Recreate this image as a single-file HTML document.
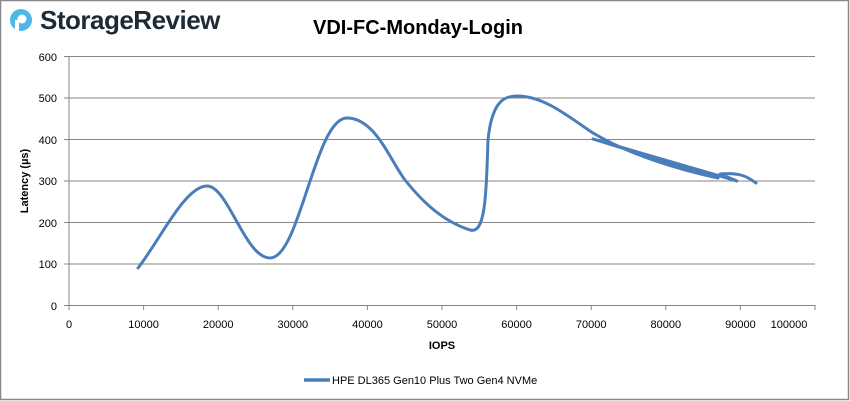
<!DOCTYPE html>
<html><head><style>
body{margin:0;background:#fff;}
svg{display:block;font-family:"Liberation Sans",Calibri,sans-serif;}
</style></head><body>
<svg width="850" height="401" viewBox="0 0 850 401">
<rect x="0.5" y="0.5" width="848" height="399" fill="#fff" stroke="#888" stroke-width="1.5"/>
<circle cx="21" cy="20" r="11" fill="#4db8e8"/>
<circle cx="22" cy="19" r="4.5" fill="#fff"/>
<rect x="15" y="20" width="4" height="11" fill="#fff"/>
<text x="40" y="29" font-size="26" fill="#1d2b36" font-weight="bold" style="font-family:'Liberation Sans',sans-serif;letter-spacing:-0.5px">StorageReview</text>
<text x="418" y="34" font-size="20" font-weight="bold" text-anchor="middle" fill="#000">VDI-FC-Monday-Login</text>
<g stroke="#868686" stroke-width="1">
<line x1="69" y1="56.5" x2="815" y2="56.5"/>
<line x1="69" y1="98" x2="815" y2="98"/>
<line x1="69" y1="139.5" x2="815" y2="139.5"/>
<line x1="69" y1="181" x2="815" y2="181"/>
<line x1="69" y1="222.5" x2="815" y2="222.5"/>
<line x1="69" y1="264" x2="815" y2="264"/>
<line x1="69" y1="305.5" x2="815" y2="305.5"/>
<line x1="69" y1="56" x2="69" y2="310"/>
<line x1="64" y1="56.5" x2="69" y2="56.5"/><line x1="64" y1="98" x2="69" y2="98"/><line x1="64" y1="139.5" x2="69" y2="139.5"/><line x1="64" y1="181" x2="69" y2="181"/><line x1="64" y1="222.5" x2="69" y2="222.5"/><line x1="64" y1="264" x2="69" y2="264"/><line x1="64" y1="305.5" x2="69" y2="305.5"/>
<line x1="143.6" y1="305" x2="143.6" y2="310"/><line x1="218.2" y1="305" x2="218.2" y2="310"/><line x1="292.8" y1="305" x2="292.8" y2="310"/><line x1="367.4" y1="305" x2="367.4" y2="310"/><line x1="442" y1="305" x2="442" y2="310"/><line x1="516.6" y1="305" x2="516.6" y2="310"/><line x1="591.2" y1="305" x2="591.2" y2="310"/><line x1="665.8" y1="305" x2="665.8" y2="310"/><line x1="740.4" y1="305" x2="740.4" y2="310"/><line x1="815" y1="305" x2="815" y2="310"/>
</g>
<g font-size="11" fill="#000" text-anchor="end">
<text x="57" y="61">600</text><text x="57" y="102">500</text><text x="57" y="144">400</text><text x="57" y="185">300</text><text x="57" y="227">200</text><text x="57" y="268">100</text><text x="57" y="310">0</text>
</g>
<g font-size="11" fill="#000" text-anchor="middle">
<text x="69" y="328">0</text><text x="143.6" y="328">10000</text><text x="218.2" y="328">20000</text><text x="292.8" y="328">30000</text><text x="367.4" y="328">40000</text><text x="442" y="328">50000</text><text x="516.6" y="328">60000</text><text x="591.2" y="328">70000</text><text x="665.8" y="328">80000</text><text x="740.4" y="328">90000</text><text x="789" y="328">100000</text>
</g>
<text x="442" y="349" font-size="11" font-weight="bold" text-anchor="middle">IOPS</text>
<text transform="translate(28,181) rotate(-90)" font-size="11" font-weight="bold" text-anchor="middle">Latency (µs)</text>
<path fill="none" stroke="#4a7ebb" stroke-width="3" stroke-linejoin="round" stroke-linecap="round"
d="M138,268 C160,240 185,186 207,186 C228,186 245,258 270,258 C300,258 315,118 347,118 C375,118 390,160 405,180 C425,205 445,222 470,230 C485,234 486,200 488,140 C492,100 505,96 517,96 C545,96 570,118 593,133 C630,155 680,170 718,178 L593,139 L737,181 L720,174 C740,172 748,177 756,183"/>
<line x1="304" y1="380" x2="330" y2="380" stroke="#4a7ebb" stroke-width="3.5"/>
<text x="332" y="384" font-size="11">HPE DL365 Gen10 Plus Two Gen4 NVMe</text>
</svg>
</body></html>
